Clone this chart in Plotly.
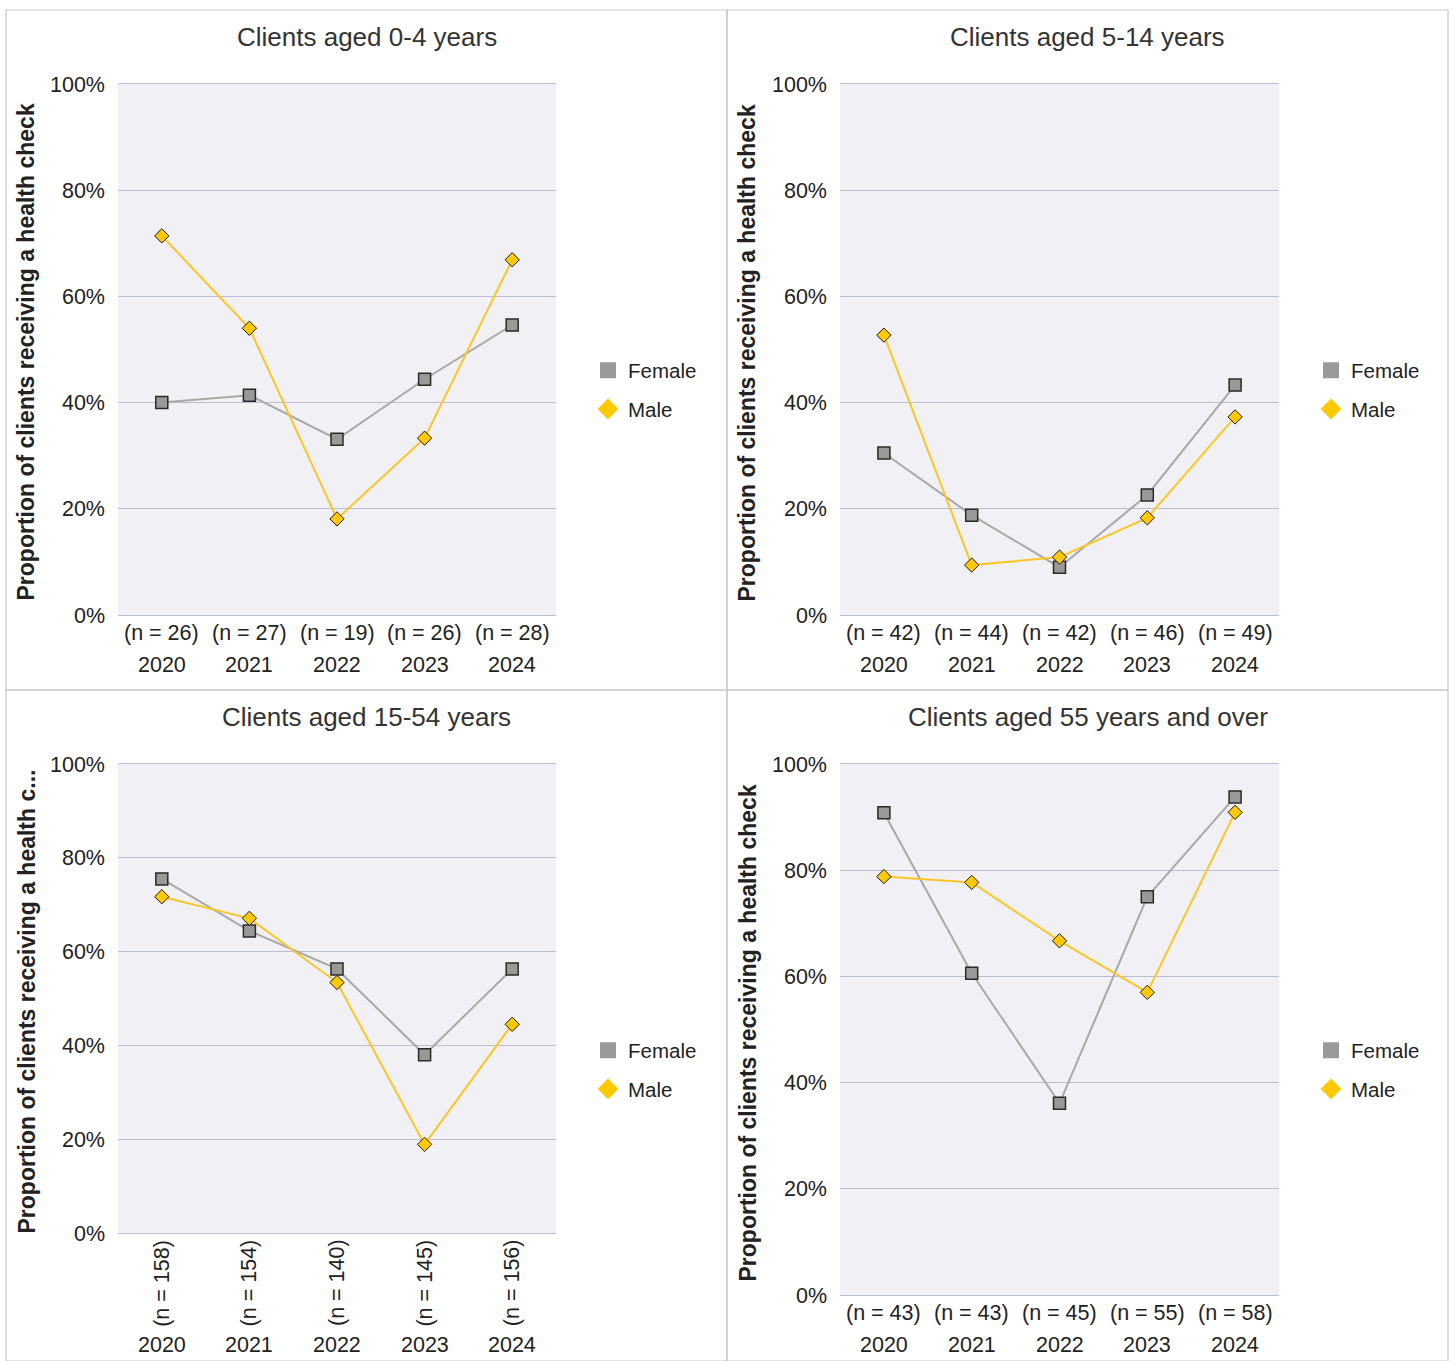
import plotly.graph_objects as go

# ---------------- data ----------------
years = ["2020", "2021", "2022", "2023", "2024"]

titles = [
    "Clients aged 0-4 years",
    "Clients aged 5-14 years",
    "Clients aged 15-54 years",
    "Clients aged 55 years and over",
]

n_0_4 = [26, 27, 19, 26, 28]
n_5_14 = [42, 44, 42, 46, 49]
n_15_54 = [158, 154, 140, 145, 156]
n_55 = [43, 43, 45, 55, 58]

female_0_4 = [40.0, 41.4, 33.1, 44.4, 54.6]
male_0_4 = [71.4, 54.0, 18.1, 33.3, 66.9]

female_5_14 = [30.5, 18.8, 9.0, 22.6, 43.3]
male_5_14 = [52.7, 9.4, 10.9, 18.3, 37.3]

female_15_54 = [75.5, 64.4, 56.3, 38.0, 56.3]
male_15_54 = [71.7, 67.1, 53.4, 18.9, 44.5]

female_55 = [90.8, 60.6, 36.1, 75.0, 93.8]
male_55 = [78.8, 77.7, 66.7, 57.0, 90.9]

y_ticks = [0, 20, 40, 60, 80, 100]
y_tick_labels = ["0%", "20%", "40%", "60%", "80%", "100%"]
y_title = "Proportion of clients receiving a health check"
y_title_short = "Proportion of clients receiving a health c..."

# ---------------- layout helpers ----------------
W, H = 1455, 1361


def px(x):
    return x / W


def py(y):
    return 1 - y / H


FONT = "Liberation Sans, Arial, sans-serif"
TXT = "#222222"
F_LINE = "#A9A9A9"
F_FILL = "#999999"
M_LINE = "#FCC624"
M_FILL = "#FFC800"
GRID = "#BDBDD6"
BG = "#F0F0F5"
TICK_SIZE = 21.5

panels = [
    dict(title=titles[0], n=n_0_4, f=female_0_4, m=male_0_4, x0=118, x1=556, y0=84, y1=615,
         box=(6, 10, 727, 690), ytitle=y_title, rot=False),
    dict(title=titles[1], n=n_5_14, f=female_5_14, m=male_5_14, x0=840, x1=1279, y0=84, y1=615,
         box=(727, 10, 1448, 690), ytitle=y_title, rot=False),
    dict(title=titles[2], n=n_15_54, f=female_15_54, m=male_15_54, x0=118, x1=556, y0=764, y1=1233,
         box=(6, 690, 727, 1361), ytitle=y_title_short, rot=True),
    dict(title=titles[3], n=n_55, f=female_55, m=male_55, x0=840, x1=1279, y0=764, y1=1295,
         box=(727, 690, 1448, 1361), ytitle=y_title, rot=False),
]

fig = go.Figure()
annotations = []
shapes = []
layout_axes = {}

for i, p in enumerate(panels):
    k = "" if i == 0 else str(i + 1)
    xa, ya = "x" + k, "y" + k
    lg = "legend" + k
    fig.add_trace(go.Scatter(
        x=years, y=p["f"], name="Female", mode="lines+markers", xaxis=xa, yaxis=ya,
        line=dict(color=F_LINE, width=2),
        marker=dict(symbol="square", size=12, color=F_FILL, line=dict(color="#2a2a2a", width=1.5)),
        showlegend=False,
    ))
    fig.add_trace(go.Scatter(
        x=years, y=p["m"], name="Male", mode="lines+markers", xaxis=xa, yaxis=ya,
        line=dict(color=M_LINE, width=2),
        marker=dict(symbol="diamond", size=11, color=M_FILL, line=dict(color="#1a1a1a", width=1)),
        showlegend=False,
    ))
    # legend entries (marker only, like the reference)
    fig.add_trace(go.Scatter(
        x=[None], y=[None], name="Female", mode="markers", xaxis=xa, yaxis=ya,
        marker=dict(symbol="square", size=16, color=F_FILL), legend=lg, legendgroup="f" + k,
    ))
    fig.add_trace(go.Scatter(
        x=[None], y=[None], name="Male", mode="markers", xaxis=xa, yaxis=ya,
        marker=dict(symbol="diamond", size=18, color=M_FILL), legend=lg, legendgroup="m" + k,
    ))

    layout_axes["xaxis" + k] = dict(
        domain=[px(p["x0"]), px(p["x1"])], anchor=ya, type="category",
        categoryorder="array", categoryarray=years, range=[-0.5, 4.5],
        showticklabels=False, showgrid=False, zeroline=False,
        showline=True, mirror=True, linecolor=GRID, linewidth=1.3, ticks="",
    )
    layout_axes["yaxis" + k] = dict(
        domain=[py(p["y1"]), py(p["y0"])], anchor=xa, range=[0, 100],
        tickvals=y_ticks, ticktext=y_tick_labels, showgrid=True, gridcolor=GRID, gridwidth=1.3,
        zeroline=False, showline=False, ticks="", ticklabelstandoff=12,
        tickfont=dict(family=FONT, size=TICK_SIZE, color=TXT),
    )
    bx0, by0, bx1, by1 = p["box"]
    layout_axes[lg] = dict(
        x=px(p["x1"] + 32), y=py(by0 + 380), xanchor="left", yanchor="middle",
        font=dict(family=FONT, size=20.5, color=TXT), bgcolor="rgba(0,0,0,0)",
        traceorder="grouped", tracegroupgap=9, itemwidth=30,
    )

    shapes.append(dict(type="rect", xref="paper", yref="paper", x0=px(bx0), x1=px(bx1),
                       y0=py(by1), y1=py(by0), line=dict(color="#C8C8C8", width=1.2),
                       fillcolor="rgba(0,0,0,0)", layer="below"))

    # panel title
    annotations.append(dict(text=p["title"], xref="paper", yref="paper",
                            x=px((bx0 + bx1) / 2), y=py(by0 + 27), showarrow=False,
                            xanchor="center", yanchor="middle",
                            font=dict(family=FONT, size=26, color="#333333")))
    # y title
    annotations.append(dict(text="<b>" + p["ytitle"] + "</b>", xref="paper", yref="paper",
                            x=px(bx0 + 20), y=py((p["y0"] + p["y1"]) / 2 + 3), showarrow=False,
                            textangle=-90, xanchor="center", yanchor="middle",
                            font=dict(family=FONT, size=23, color=TXT)))
    # x category labels (positioned on the category axis by index)
    for j, (yr, n) in enumerate(zip(years, p["n"])):
        if p["rot"]:
            annotations.append(dict(text=f"(n = {n})", xref=xa, yref="paper", x=j,
                                    y=py(p["y1"] + 50), showarrow=False, textangle=-90,
                                    xanchor="center", yanchor="middle",
                                    font=dict(family=FONT, size=TICK_SIZE, color=TXT)))
            annotations.append(dict(text=yr, xref=xa, yref="paper", x=j,
                                    y=py(p["y1"] + 112), showarrow=False,
                                    xanchor="center", yanchor="middle",
                                    font=dict(family=FONT, size=TICK_SIZE, color=TXT)))
        else:
            annotations.append(dict(text=f"(n = {n})", xref=xa, yref="paper", x=j,
                                    y=py(p["y1"] + 18), showarrow=False,
                                    xanchor="center", yanchor="middle",
                                    font=dict(family=FONT, size=TICK_SIZE, color=TXT)))
            annotations.append(dict(text=yr, xref=xa, yref="paper", x=j,
                                    y=py(p["y1"] + 50), showarrow=False,
                                    xanchor="center", yanchor="middle",
                                    font=dict(family=FONT, size=TICK_SIZE, color=TXT)))

fig.update_layout(
    width=W, height=H, margin=dict(l=0, r=0, t=0, b=0, pad=0, autoexpand=False),
    paper_bgcolor="white", plot_bgcolor=BG,
    annotations=annotations, shapes=shapes,
    font=dict(family=FONT, color=TXT),
    **layout_axes,
)

fig.write_html("out.html", config={"displayModeBar": False},
               post_script="document.body.style.margin='0';")
